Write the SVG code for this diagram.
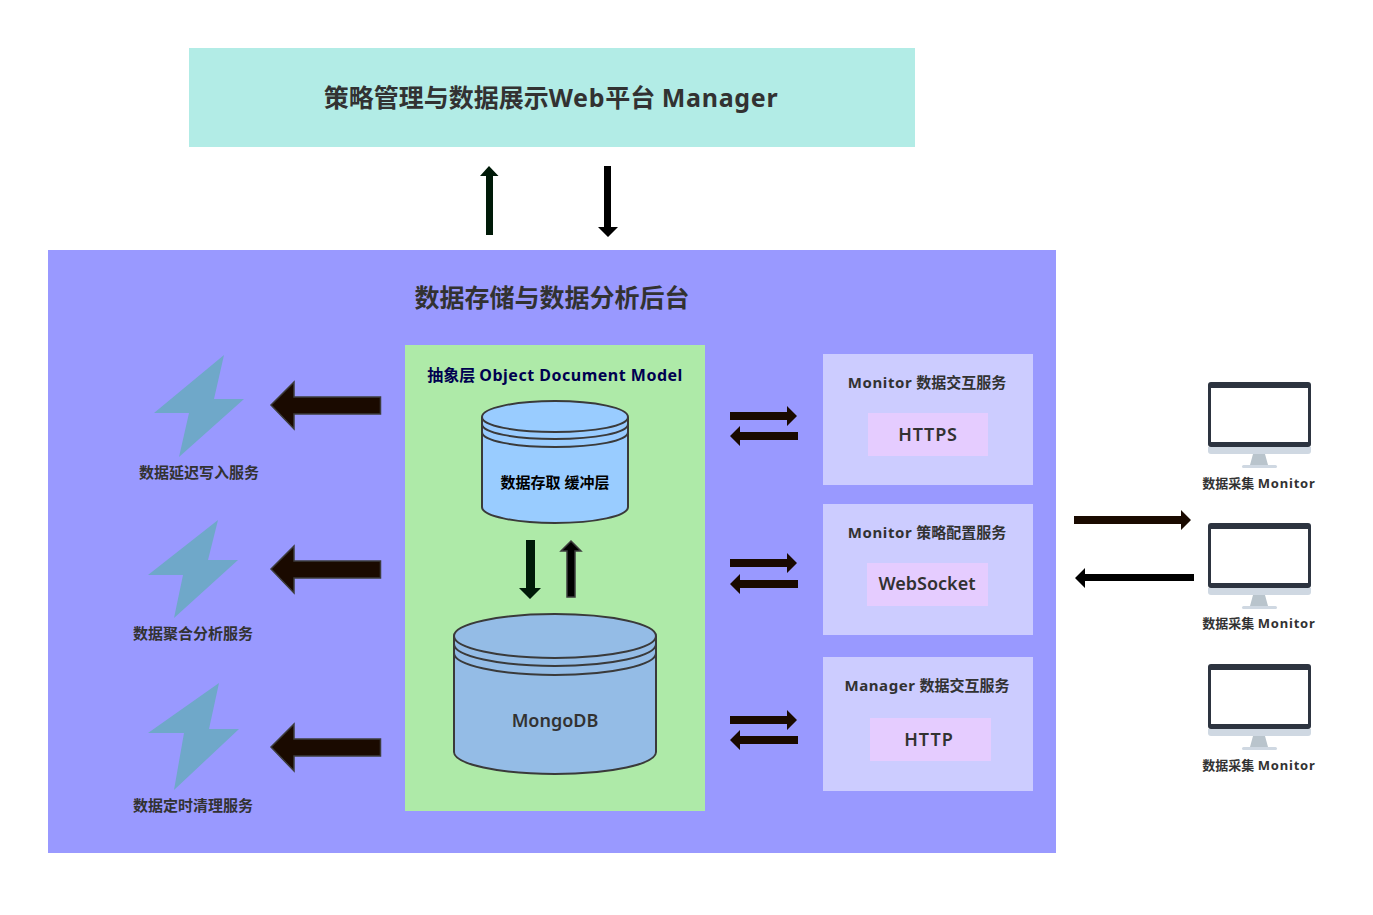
<svg xmlns="http://www.w3.org/2000/svg" width="1373" height="915" viewBox="0 0 1373 915">
<style>
text{font-family:"Noto Sans","Noto Sans CJK SC",sans-serif;font-weight:700;fill:#323232;text-anchor:middle}
.bolt{fill:#6fa8c9}
.cyl{stroke:#3a3a3a;stroke-width:2;fill:none}
.k{fill:#000}.b{fill:#1a0a00}.g{fill:#001a08}
.outl{stroke:#3c3c3c;stroke-width:1.5}
.svc{fill:#ccccff}.pill{fill:#e5ccff}
.t15{font-size:15px}.t13{font-size:13px}.t18{font-size:18px;font-weight:600}
.l15{letter-spacing:.6px}.l13{letter-spacing:.8px}
</style>
<defs>
<g id="monitor">
<rect x="0" y="0" width="103" height="65" rx="3" fill="#2d3440"/>
<rect x="3" y="6" width="97" height="54" fill="#fff"/>
<path d="M0 65H103V69a3 3 0 0 1-3 3H3a3 3 0 0 1-3-3Z" fill="#cfd8e2"/>
<path d="M45 72H57L60 83H42Z" fill="#b9c4cc"/>
<rect x="34" y="83" width="35" height="3" rx="1.500" fill="#cfd8e2"/>
</g>
</defs>
<rect width="1373" height="915" fill="#fff"/>

<g id="manager">
<rect x="189" y="48" width="726" height="99" fill="#b2ece6"/>
<text x="551" y="107" font-size="25">策略管理与数据展示<tspan letter-spacing=".7">Web</tspan>平台 <tspan letter-spacing=".7">Manager</tspan></text>
</g>

<g id="backend">
<rect x="48" y="250" width="1008" height="603" fill="#9999ff"/>
<text x="552" y="307" font-size="25">数据存储与数据分析后台</text>
</g>

<g id="odm">
<rect x="405" y="345" width="300" height="466" fill="#aeeaa8"/>
<text x="555" y="381" font-size="16" style="fill:#000050">抽象层 <tspan letter-spacing=".5">Object Document Model</tspan></text>
</g>

<g id="cache">
<path d="M482 417V507C482 516 515 523 555 523S628 516 628 507V417C628 408 595 401 555 401S482 408 482 417Z" fill="#99ccff"/>
<path class="cyl" d="M482 417V507C482 516 515 523 555 523S628 516 628 507V417C628 408 595 401 555 401S482 408 482 417Z"/>
<path class="cyl" d="M482 417C482 426 515 432 555 432S628 426 628 417M482 424C482 433 515 439 555 439S628 433 628 424M482 432C482 441 515 447 555 447S628 441 628 432"/>
<text x="555" y="488" font-size="15" style="fill:#000">数据存取 缓冲层</text>
</g>

<g id="mongodb">
<path d="M454 636V752C454 764 499 774 555 774S656 764 656 752V636C656 624 611 614 555 614S454 624 454 636Z" fill="#94bce6"/>
<path class="cyl" d="M454 636V752C454 764 499 774 555 774S656 764 656 752V636C656 624 611 614 555 614S454 624 454 636Z"/>
<path class="cyl" d="M454 636C454 648 499 658 555 658S656 648 656 636M454 644C454 656 499 666 555 666S656 656 656 644M454 653C454 665 499 675 555 675S656 665 656 653"/>
<text x="555" y="727" class="t18">MongoDB</text>
</g>

<g id="svc-delay">
<polygon class="bolt" points="224,355 214,399 244,399 179,457 189,413 154,413"/>
<text x="199" y="478" class="t15">数据延迟写入服务</text>
</g>
<g id="svc-aggregate">
<polygon class="bolt" points="218,520 208,560 238,560 174,618 183,575 148,575"/>
<text x="193" y="639" class="t15">数据聚合分析服务</text>
</g>
<g id="svc-clean">
<polygon class="bolt" points="219,683 209,729 239,729 174,790 184,733 148,733"/>
<text x="193" y="811" class="t15">数据定时清理服务</text>
</g>

<g id="monitor-https">
<rect class="svc" x="823" y="354" width="210" height="131"/>
<text x="927" y="388" class="t15"><tspan class="l15">Monitor</tspan> 数据交互服务</text>
<rect class="pill" x="868" y="413" width="120" height="43"/>
<text x="928" y="441" class="t18" letter-spacing=".8">HTTPS</text>
</g>
<g id="monitor-ws">
<rect class="svc" x="823" y="504" width="210" height="131"/>
<text x="927" y="538" class="t15"><tspan class="l15">Monitor</tspan> 策略配置服务</text>
<rect class="pill" x="867" y="563" width="121" height="43"/>
<text x="927" y="590" class="t18">WebSocket</text>
</g>
<g id="manager-http">
<rect class="svc" x="823" y="657" width="210" height="134"/>
<text x="927" y="691" class="t15"><tspan class="l15">Manager</tspan> 数据交互服务</text>
<rect class="pill" x="870" y="718" width="121" height="43"/>
<text x="929" y="746" class="t18" letter-spacing="1">HTTP</text>
</g>

<g id="monitor-1"><use href="#monitor" x="1208" y="382"/><text x="1259" y="488" class="t13"><tspan>数据采集 </tspan><tspan class="l13">Monitor</tspan></text></g>
<g id="monitor-2"><use href="#monitor" x="1208" y="523"/><text x="1259" y="628" class="t13"><tspan>数据采集 </tspan><tspan class="l13">Monitor</tspan></text></g>
<g id="monitor-3"><use href="#monitor" x="1208" y="664"/><text x="1259" y="770" class="t13"><tspan>数据采集 </tspan><tspan class="l13">Monitor</tspan></text></g>

<g id="connectors">
<polygon class="g" points="489,166 498.500,176 493,176 493,235 486,235 486,176 480,176"/>
<polygon class="k" points="608,237 598,227 604,227 604,166 611,166 611,227 618,227"/>

<polygon class="g" points="530,599 519,588 526,588 526,540 535,540 535,588 541,588"/>
<polygon class="k outl" points="571,541 581,551 575,551 575,597 567,597 567,551 561,551"/>

<polygon class="b outl" points="271,405 294,382 294,397 380.500,397 380.500,414 294,414 294,429"/>
<polygon class="b outl" points="271,569 294,546 294,561 380.500,561 380.500,578 294,578 294,593"/>
<polygon class="b outl" points="271,747 294,724 294,739 380.500,739 380.500,756 294,756 294,771"/>

<polygon class="b" points="797,416 787,406 787,412 730,412 730,420 787,420 787,426"/>
<polygon class="b" points="730,436 740,426 740,432 798,432 798,440 740,440 740,446"/>
<polygon class="b" points="797,563 787,553 787,559 730,559 730,567 787,567 787,573"/>
<polygon class="b" points="730,584 740,574 740,580 798,580 798,588 740,588 740,594"/>
<polygon class="b" points="797,720 787,710 787,716 730,716 730,724 787,724 787,730"/>
<polygon class="b" points="730,740 740,730 740,736 798,736 798,744 740,744 740,750"/>

<polygon class="b" points="1191,520 1181,510 1181,516 1074,516 1074,524 1181,524 1181,530"/>
<polygon class="k" points="1075,578 1085,568 1085,574 1194,574 1194,581 1085,581 1085,588"/>
</g>
</svg>
